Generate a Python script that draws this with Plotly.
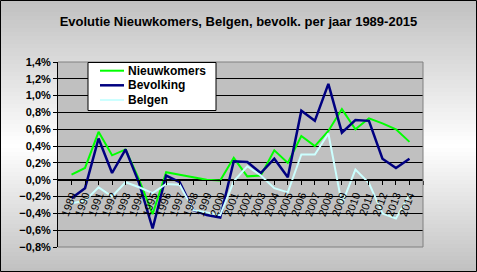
import plotly.graph_objects as go

years = list(range(1989, 2015))
tick_labels = [str(y) for y in years]
nieuwkomers = [0.06, 0.14, 0.57, 0.29, 0.36, 0.00, -0.41, 0.09, 0.06, 0.03, 0.00, -0.01, 0.26,
               0.04, 0.05, 0.35, 0.20, 0.52, 0.40, 0.58, 0.84, 0.60, 0.73, 0.67, 0.60, 0.45]
bevolking = [-0.22, -0.10, 0.49, 0.08, 0.36, -0.04, -0.58, 0.05, -0.03, -0.36, -0.42, -0.45, 0.22,
             0.21, 0.08, 0.25, 0.03, 0.82, 0.70, 1.14, 0.56, 0.71, 0.70, 0.25, 0.14, 0.25]
belgen = [-0.28, -0.25, -0.09, -0.20, -0.03, -0.09, -0.16, -0.05, -0.06, -0.36, -0.39, -0.42, -0.02,
          0.16, 0.05, -0.10, -0.15, 0.30, 0.30, 0.55, -0.29, 0.12, -0.04, -0.40, -0.46, -0.18]
series_names = ["Nieuwkomers", "Bevolking", "Belgen"]
title_text = "Evolutie Nieuwkomers, Belgen, bevolk. per jaar 1989-2015"

W, H = 477, 272
ML, MR, MT, MB = 58, 54, 62, 25
PW, PH = W - ML - MR, H - MT - MB
FONT = "Arial, Liberation Sans, sans-serif"


def px_x(p):
    return (p - ML) / PW


def px_y(p):
    return (H - MB - p) / PH


fig = go.Figure()
colors = ["#00FF00", "#000080", "#CCFFFF"]
widths = [2, 2.5, 2]
for name, vals, c, w in zip(series_names, [nieuwkomers, bevolking, belgen], colors, widths):
    fig.add_trace(go.Scatter(x=years, y=[v / 100 for v in vals], mode="lines", name=name,
                             line=dict(color=c, width=w), showlegend=False))

shapes = []
# background vertical gradient
band = 4
for i in range(0, H, band):
    yc = i + band / 2
    if yc < 145:
        g = 192 + (255 - 192) * (yc / 145)
    else:
        g = 255 - (255 - 192) * ((yc - 145) / (H - 145))
    g = int(round(min(255, max(0, g))))
    shapes.append(dict(type="rect", xref="paper", yref="paper", layer="below",
                       x0=px_x(0), x1=px_x(W), y0=px_y(i + band), y1=px_y(i),
                       line=dict(width=0), fillcolor=f"rgb({g},{g},{g})"))
# plot area
shapes.append(dict(type="rect", xref="paper", yref="paper", layer="below",
                   x0=0, x1=1, y0=0, y1=1, line=dict(width=0), fillcolor="#C0C0C0"))
# plot border (top, right, bottom)
shapes.append(dict(type="path", xref="paper", yref="paper", layer="above",
                   path="M 0,1 L 1,1 L 1,0 L 0,0", line=dict(color="#808080", width=1)))
# outer border
shapes.append(dict(type="rect", xref="paper", yref="paper", layer="above",
                   x0=px_x(0.5), x1=px_x(W - 0.5), y0=px_y(H - 0.5), y1=px_y(0.5),
                   line=dict(color="black", width=1), fillcolor="rgba(0,0,0,0)"))

# custom compact legend
annotations = []
LX0, LX1, LY0, LY1 = 88, 216, 62.5, 110.5
shapes.append(dict(type="rect", xref="paper", yref="paper", layer="above",
                   x0=px_x(LX0), x1=px_x(LX1), y0=px_y(LY1), y1=px_y(LY0),
                   line=dict(color="black", width=1), fillcolor="white"))
row_y = [70.7, 85.3, 100.0]
for name, c, w, ry in zip(series_names, colors, widths, row_y):
    shapes.append(dict(type="line", xref="paper", yref="paper", layer="above",
                       x0=px_x(100), x1=px_x(124), y0=px_y(ry), y1=px_y(ry),
                       line=dict(color=c, width=w)))
    annotations.append(dict(text="<b>" + name + "</b>", xref="paper", yref="paper",
                            x=px_x(126), y=px_y(ry), xanchor="left", yanchor="middle",
                            showarrow=False, font=dict(family=FONT, size=12, color="black")))

ymin, ymax = -0.008, 0.014
fig.update_layout(
    width=W, height=H,
    margin=dict(l=ML, r=MR, t=MT, b=MB),
    paper_bgcolor="#C0C0C0",
    plot_bgcolor="#C0C0C0",
    separators=",.",
    shapes=shapes,
    annotations=annotations,
    title=dict(text="<b>" + title_text + "</b>", x=0.5, xref="container", xanchor="center",
               y=1 - 21 / H, yref="container", yanchor="middle",
               font=dict(family=FONT, size=13, color="black")),
    showlegend=False,
    xaxis=dict(range=[1988, 2015], anchor="free", position=(0 - ymin) / (ymax - ymin),
               tickvals=years + [2015], ticktext=tick_labels + [""],
               tickangle=-70, ticks="outside", ticklen=4, tickcolor="black",
               showline=True, linecolor="black", linewidth=1, showgrid=False, zeroline=False,
               tickfont=dict(family=FONT, size=11, color="black"), automargin=False),
    yaxis=dict(range=[ymin, ymax], dtick=0.002, tick0=0, tickformat=".1%",
               ticks="outside", ticklen=4, tickcolor="black",
               showline=True, linecolor="black", linewidth=1,
               showgrid=True, gridcolor="black", gridwidth=1, zeroline=False,
               tickfont=dict(family=FONT, size=11, color="black", weight="bold"),
               automargin=False),
)

fig.write_html("out.html")
